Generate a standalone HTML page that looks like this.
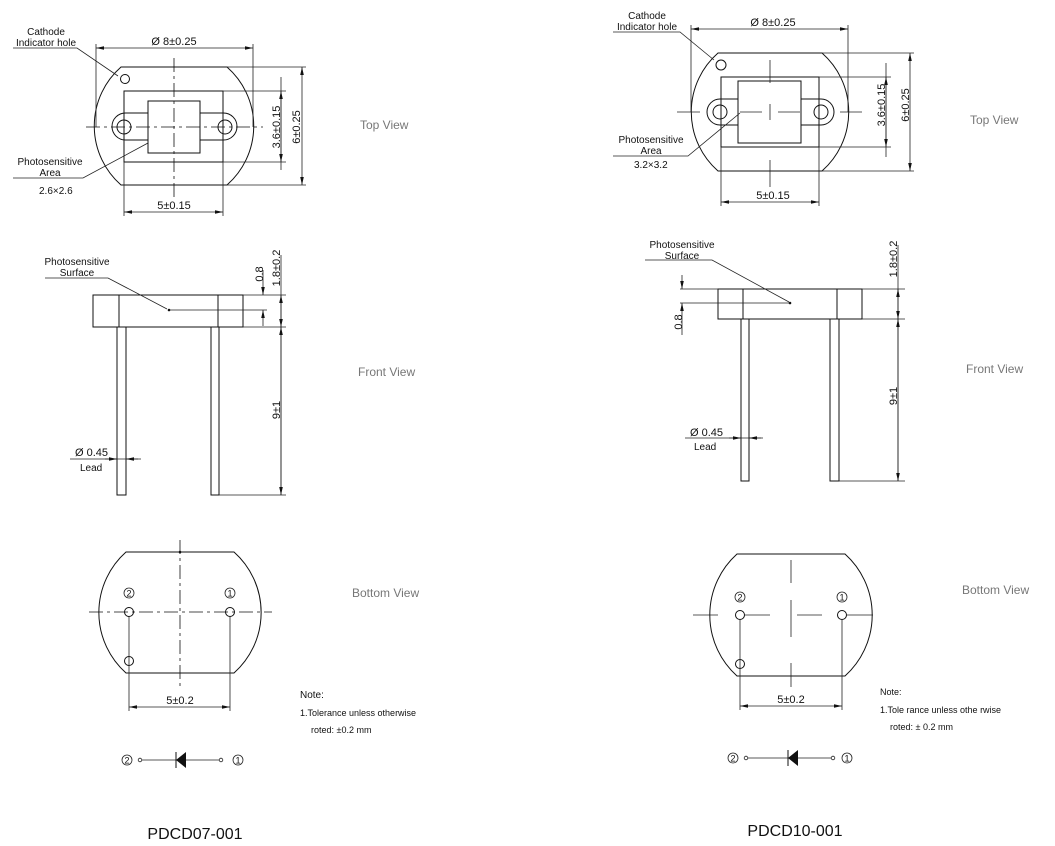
<!DOCTYPE html>
<html><head><meta charset="utf-8"><style>
html,body{margin:0;padding:0;background:#fff;}
svg{display:block;}
text{font-family:"Liberation Sans",Arial,sans-serif;fill:#111;}
.l{stroke:#111;stroke-width:1;fill:none;}
.t{stroke:#222;stroke-width:0.8;fill:none;}
.c{stroke:#111;stroke-width:0.8;fill:none;stroke-dasharray:14,4,3,4;}
.g{fill:#777;font-size:12px;}
.s{font-size:10px;}
.d{font-size:11px;}
</style></head><body>
<svg width="1055" height="846" viewBox="0 0 1055 846" xmlns="http://www.w3.org/2000/svg">
<defs>
<marker id="a" markerWidth="8" markerHeight="6" refX="8" refY="3" orient="auto-start-reverse" markerUnits="userSpaceOnUse"><path d="M0,1.2 L8,3 L0,4.8z" fill="#111"/></marker>
</defs>

<!-- ===== LEFT TOP VIEW ===== -->
<path class="l" d="M121,67 L227,67 A78.5,78.5 0 0 1 227,185 L121,185 A78.5,78.5 0 0 1 121,67 Z"/>
<rect class="l" x="124" y="91" width="99" height="71"/>
<path class="l" d="M148,113 L125.5,113 A13.5,13.5 0 0 0 125.5,140 L148,140"/>
<path class="l" d="M200,113 L223.5,113 A13.5,13.5 0 0 1 223.5,140 L200,140"/>
<circle class="l" cx="124" cy="127" r="7"/>
<circle class="l" cx="225" cy="127" r="7"/>
<rect class="l" x="148" y="101" width="52" height="52" fill="#fff"/>
<circle class="l" cx="125" cy="79" r="4.5"/>
<line class="c" x1="86" y1="127" x2="263" y2="127"/>
<line class="c" x1="174" y1="58" x2="174" y2="198"/>
<!-- dims -->
<line class="t" x1="96" y1="44" x2="96" y2="127"/>
<line class="t" x1="253" y1="44" x2="253" y2="127"/>
<line class="t" x1="96" y1="48" x2="253" y2="48" marker-start="url(#a)" marker-end="url(#a)"/>
<text class="d" x="174" y="45" text-anchor="middle">Ø 8±0.25</text>
<line class="t" x1="223" y1="91" x2="286" y2="91"/>
<line class="t" x1="223" y1="162" x2="286" y2="162"/>
<line class="t" x1="281" y1="77" x2="281" y2="170" />
<line class="t" x1="281" y1="91" x2="281" y2="162" marker-start="url(#a)" marker-end="url(#a)"/>
<text class="d" transform="translate(280,127) rotate(-90)" text-anchor="middle">3.6±0.15</text>
<line class="t" x1="227" y1="67" x2="306" y2="67"/>
<line class="t" x1="227" y1="185" x2="306" y2="185"/>
<line class="t" x1="302" y1="67" x2="302" y2="185" marker-start="url(#a)" marker-end="url(#a)"/>
<text class="d" transform="translate(300,127) rotate(-90)" text-anchor="middle">6±0.25</text>
<line class="t" x1="124" y1="162" x2="124" y2="216"/>
<line class="t" x1="223" y1="162" x2="223" y2="216"/>
<line class="t" x1="124" y1="212" x2="223" y2="212" marker-start="url(#a)" marker-end="url(#a)"/>
<text class="d" x="174" y="209" text-anchor="middle">5±0.15</text>
<!-- labels -->
<text class="s" x="46" y="35" text-anchor="middle">Cathode</text>
<text class="s" x="46" y="46" text-anchor="middle">Indicator hole</text>
<polyline class="t" points="13,48 77,48 118,76"/>
<text class="s" x="50" y="165" text-anchor="middle">Photosensitive</text>
<text class="s" x="50" y="176" text-anchor="middle">Area</text>
<polyline class="t" points="13,178 83,178 148,143"/>
<text class="s" x="39" y="194">2.6×2.6</text>
<text class="g" x="360" y="129">Top View</text>

<!-- ===== RIGHT TOP VIEW ===== -->
<path class="l" d="M718,53 L822,53 A78.5,78.5 0 0 1 822,171 L718,171 A78.5,78.5 0 0 1 718,53 Z"/>
<rect class="l" x="721" y="77" width="98" height="70"/>
<path class="l" d="M738,99 L720,99 A13,13 0 0 0 720,125 L738,125"/>
<path class="l" d="M801,99 L821,99 A13,13 0 0 1 821,125 L801,125"/>
<circle class="l" cx="720" cy="112" r="7"/>
<circle class="l" cx="821" cy="112" r="7"/>
<rect class="l" x="738" y="81" width="63" height="62" fill="#fff"/>
<circle class="l" cx="721" cy="65" r="5"/>
<g class="t">
<line x1="770" y1="60" x2="770" y2="83"/><line x1="770" y1="104" x2="770" y2="120"/><line x1="770" y1="160" x2="770" y2="187"/>
<line x1="677" y1="112" x2="700" y2="112"/><line x1="740" y1="112" x2="762" y2="112"/><line x1="778" y1="112" x2="800" y2="112"/><line x1="840" y1="112" x2="862" y2="112"/>
</g>
<line class="t" x1="691" y1="25" x2="691" y2="112"/>
<line class="t" x1="848" y1="25" x2="848" y2="112"/>
<line class="t" x1="691" y1="29" x2="848" y2="29" marker-start="url(#a)" marker-end="url(#a)"/>
<text class="d" x="773" y="26" text-anchor="middle">Ø 8±0.25</text>
<line class="t" x1="819" y1="77" x2="891" y2="77"/>
<line class="t" x1="819" y1="147" x2="891" y2="147"/>
<line class="t" x1="886" y1="63" x2="886" y2="157"/>
<line class="t" x1="886" y1="77" x2="886" y2="147" marker-start="url(#a)" marker-end="url(#a)"/>
<text class="d" transform="translate(885,105) rotate(-90)" text-anchor="middle">3.6±0.15</text>
<line class="t" x1="822" y1="53" x2="914" y2="53"/>
<line class="t" x1="822" y1="171" x2="914" y2="171"/>
<line class="t" x1="910" y1="53" x2="910" y2="171" marker-start="url(#a)" marker-end="url(#a)"/>
<text class="d" transform="translate(909,105) rotate(-90)" text-anchor="middle">6±0.25</text>
<line class="t" x1="721" y1="147" x2="721" y2="206"/>
<line class="t" x1="819" y1="147" x2="819" y2="206"/>
<line class="t" x1="721" y1="202" x2="819" y2="202" marker-start="url(#a)" marker-end="url(#a)"/>
<text class="d" x="773" y="199" text-anchor="middle">5±0.15</text>
<text class="s" x="647" y="19" text-anchor="middle">Cathode</text>
<text class="s" x="647" y="30" text-anchor="middle">Indicator hole</text>
<polyline class="t" points="613,32 680,32 714,60"/>
<text class="s" x="651" y="143" text-anchor="middle">Photosensitive</text>
<text class="s" x="651" y="154" text-anchor="middle">Area</text>
<polyline class="t" points="613,156 688,156 740,113"/>
<text class="s" x="634" y="168">3.2×3.2</text>
<text class="g" x="970" y="124">Top View</text>

<!-- ===== LEFT FRONT VIEW ===== -->
<rect class="l" x="93" y="295" width="150" height="32"/>
<line class="l" x1="119" y1="295" x2="119" y2="327"/>
<line class="l" x1="218" y1="295" x2="218" y2="327"/>
<rect class="l" x="117" y="327" width="9" height="168"/>
<rect class="l" x="211" y="327" width="8" height="168"/>
<line class="t" x1="169" y1="310" x2="267" y2="310"/>
<circle cx="169" cy="310" r="1.3" fill="#111"/>
<text class="s" x="77" y="265" text-anchor="middle">Photosensitive</text>
<text class="s" x="77" y="276" text-anchor="middle">Surface</text>
<polyline class="t" points="45,278 108,278 167,309"/>
<line class="t" x1="243" y1="295" x2="286" y2="295"/>
<line class="t" x1="243" y1="327" x2="286" y2="327"/>
<line class="t" x1="219" y1="495" x2="286" y2="495"/>
<line class="t" x1="263" y1="270" x2="263" y2="295" marker-end="url(#a)"/>
<line class="t" x1="263" y1="326" x2="263" y2="310" marker-end="url(#a)"/>
<text class="d" transform="translate(263,274) rotate(-90)" text-anchor="middle">0.8</text>
<line class="t" x1="281" y1="255" x2="281" y2="495"/>
<line class="t" x1="281" y1="311" x2="281" y2="295" marker-end="url(#a)"/>
<line class="t" x1="281" y1="311" x2="281" y2="327" marker-end="url(#a)"/>
<line class="t" x1="281" y1="327" x2="281" y2="495" marker-start="url(#a)" marker-end="url(#a)"/>
<text class="d" transform="translate(280,268) rotate(-90)" text-anchor="middle">1.8±0.2</text>
<text class="d" transform="translate(280,410) rotate(-90)" text-anchor="middle">9±1</text>
<line class="t" x1="70" y1="459" x2="141" y2="459"/>
<line class="t" x1="105" y1="459" x2="117" y2="459" marker-end="url(#a)"/>
<line class="t" x1="138" y1="459" x2="126" y2="459" marker-end="url(#a)"/>
<text class="d" x="75" y="456">Ø 0.45</text>
<text class="s" x="80" y="471">Lead</text>
<text class="g" x="358" y="376">Front View</text>

<!-- ===== RIGHT FRONT VIEW ===== -->
<rect class="l" x="718" y="289" width="144" height="30"/>
<line class="l" x1="743" y1="289" x2="743" y2="319"/>
<line class="l" x1="837" y1="289" x2="837" y2="319"/>
<rect class="l" x="741" y="319" width="8" height="162"/>
<rect class="l" x="830" y="319" width="9" height="162"/>
<line class="t" x1="680" y1="289" x2="718" y2="289"/>
<line class="t" x1="680" y1="303" x2="790" y2="303"/>
<circle cx="790" cy="303" r="1.3" fill="#111"/>
<text class="s" x="682" y="248" text-anchor="middle">Photosensitive</text>
<text class="s" x="682" y="259" text-anchor="middle">Surface</text>
<polyline class="t" points="645,260 712,260 789,302"/>
<line class="t" x1="682" y1="275" x2="682" y2="289" marker-end="url(#a)"/>
<line class="t" x1="682" y1="335" x2="682" y2="303" marker-end="url(#a)"/>
<text class="d" transform="translate(682,322) rotate(-90)" text-anchor="middle">0.8</text>
<line class="t" x1="862" y1="289" x2="905" y2="289"/>
<line class="t" x1="862" y1="319" x2="905" y2="319"/>
<line class="t" x1="839" y1="481" x2="905" y2="481"/>
<line class="t" x1="898" y1="245" x2="898" y2="481"/>
<line class="t" x1="898" y1="304" x2="898" y2="289" marker-end="url(#a)"/>
<line class="t" x1="898" y1="304" x2="898" y2="319" marker-end="url(#a)"/>
<line class="t" x1="898" y1="319" x2="898" y2="481" marker-start="url(#a)" marker-end="url(#a)"/>
<text class="d" transform="translate(897,259) rotate(-90)" text-anchor="middle">1.8±0.2</text>
<text class="d" transform="translate(897,396) rotate(-90)" text-anchor="middle">9±1</text>
<line class="t" x1="685" y1="438" x2="763" y2="438"/>
<line class="t" x1="729" y1="438" x2="741" y2="438" marker-end="url(#a)"/>
<line class="t" x1="761" y1="438" x2="749" y2="438" marker-end="url(#a)"/>
<text class="d" x="690" y="436">Ø 0.45</text>
<text class="s" x="694" y="450">Lead</text>
<text class="g" x="966" y="373">Front View</text>

<!-- ===== LEFT BOTTOM VIEW ===== -->
<path class="l" d="M126,552 L234,552 A81,81 0 0 1 234,673 L126,673 A81,81 0 0 1 126,552 Z"/>
<line class="c" x1="89" y1="612" x2="272" y2="612"/>
<line class="c" x1="180" y1="540" x2="180" y2="688"/>
<circle cx="180" cy="552" r="1.3" fill="#111"/>
<circle class="l" cx="129" cy="612" r="4.5" fill="#fff"/>
<circle class="l" cx="230" cy="612" r="4.5" fill="#fff"/>
<circle class="l" cx="129" cy="661" r="4.5"/>
<circle class="t" cx="129" cy="593" r="5"/><text x="129" y="596.5" font-size="9" text-anchor="middle" font-family="Liberation Serif">2</text>
<circle class="t" cx="230" cy="593" r="5"/><text x="230" y="596.5" font-size="9" text-anchor="middle" font-family="Liberation Serif">1</text>
<line class="t" x1="129" y1="617" x2="129" y2="711"/>
<line class="t" x1="230" y1="617" x2="230" y2="711"/>
<line class="t" x1="129" y1="707" x2="230" y2="707" marker-start="url(#a)" marker-end="url(#a)"/>
<text class="d" x="180" y="704" text-anchor="middle">5±0.2</text>
<circle class="t" cx="127" cy="760" r="5"/><text x="127" y="763.5" font-size="9" text-anchor="middle" font-family="Liberation Serif">2</text>
<circle class="t" cx="140" cy="760" r="1.8"/>
<line class="t" x1="142" y1="760" x2="219" y2="760"/>
<path d="M176,760 L186,752 L186,768 Z" fill="#111"/>
<line class="l" x1="176" y1="752" x2="176" y2="768"/>
<circle class="t" cx="221" cy="760" r="1.8"/>
<circle class="t" cx="238" cy="760" r="5"/><text x="238" y="763.5" font-size="9" text-anchor="middle" font-family="Liberation Serif">1</text>
<text class="s" x="300" y="698" font-size="9">Note:</text>
<text x="300" y="716" font-size="9">1.Tolerance unless otherwise</text>
<text x="311" y="733" font-size="9">roted: ±0.2 mm</text>
<text class="g" x="352" y="597">Bottom View</text>

<!-- ===== RIGHT BOTTOM VIEW ===== -->
<path class="l" d="M737,554 L845,554 A82,82 0 0 1 845,676 L737,676 A82,82 0 0 1 737,554 Z"/>
<g class="t">
<line x1="791" y1="560" x2="791" y2="583"/><line x1="791" y1="600" x2="791" y2="637"/><line x1="791" y1="663" x2="791" y2="687"/>
<line x1="693" y1="615" x2="718" y2="615"/><line x1="745" y1="615" x2="770" y2="615"/><line x1="797" y1="615" x2="822" y2="615"/><line x1="847" y1="615" x2="873" y2="615"/>
</g>
<circle class="l" cx="740" cy="615" r="4.5" fill="#fff"/>
<circle class="l" cx="842" cy="615" r="4.5" fill="#fff"/>
<circle class="l" cx="740" cy="664" r="4.5"/>
<circle class="t" cx="740" cy="597" r="5"/><text x="740" y="600.5" font-size="9" text-anchor="middle" font-family="Liberation Serif">2</text>
<circle class="t" cx="842" cy="597" r="5"/><text x="842" y="600.5" font-size="9" text-anchor="middle" font-family="Liberation Serif">1</text>
<line class="t" x1="740" y1="620" x2="740" y2="710"/>
<line class="t" x1="842" y1="620" x2="842" y2="710"/>
<line class="t" x1="740" y1="706" x2="842" y2="706" marker-start="url(#a)" marker-end="url(#a)"/>
<text class="d" x="791" y="703" text-anchor="middle">5±0.2</text>
<circle class="t" cx="733" cy="758" r="5"/><text x="733" y="761.5" font-size="9" text-anchor="middle" font-family="Liberation Serif">2</text>
<circle class="t" cx="746" cy="758" r="1.8"/>
<line class="t" x1="748" y1="758" x2="831" y2="758"/>
<path d="M788,758 L798,750 L798,766 Z" fill="#111"/>
<line class="l" x1="788" y1="750" x2="788" y2="766"/>
<circle class="t" cx="833" cy="758" r="1.8"/>
<circle class="t" cx="847" cy="758" r="5"/><text x="847" y="761.5" font-size="9" text-anchor="middle" font-family="Liberation Serif">1</text>
<text x="880" y="695" font-size="9">Note:</text>
<text x="880" y="713" font-size="9">1.Tole rance unless othe rwise</text>
<text x="890" y="730" font-size="9">roted: ± 0.2 mm</text>
<text class="g" x="962" y="594">Bottom View</text>

<!-- titles -->
<text x="195" y="839" font-size="16" text-anchor="middle">PDCD07-001</text>
<text x="795" y="836" font-size="16" text-anchor="middle">PDCD10-001</text>
</svg>
</body></html>
